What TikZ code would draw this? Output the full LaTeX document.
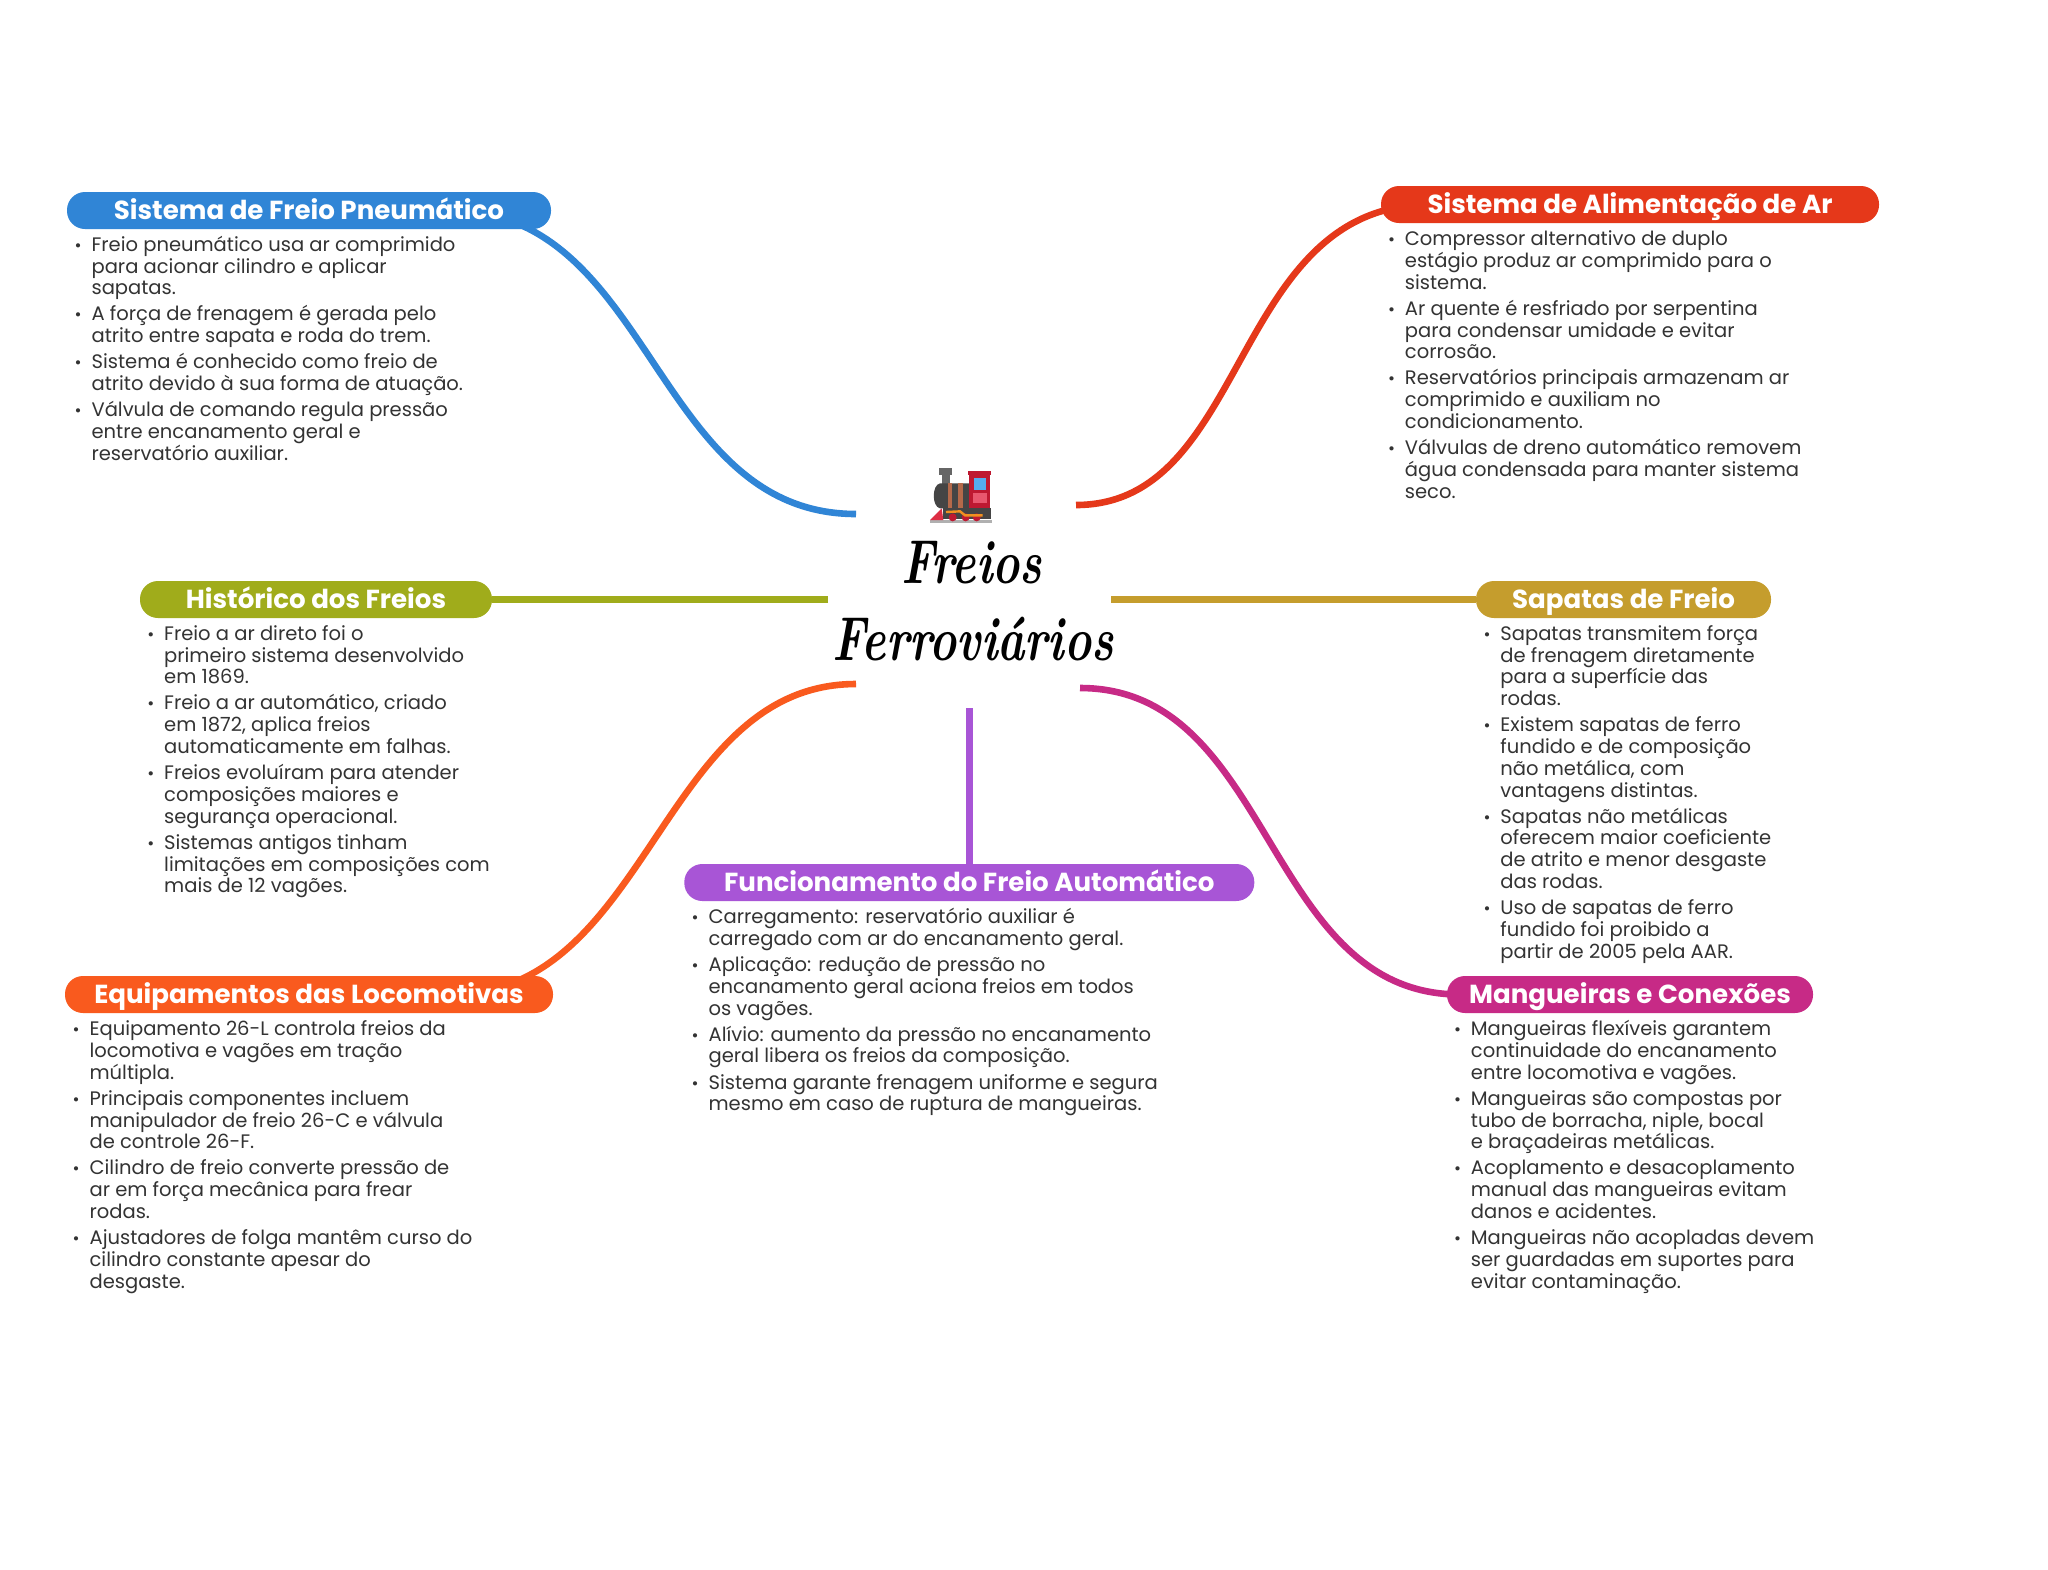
\documentclass[tikz,border=0pt]{standalone}
\usepackage{fontspec}
\usepackage{graphicx}
\newfontfamily\pop{Poppins}
\usetikzlibrary{calc}
\pgfdeclarelayer{bg}\pgfsetlayers{bg,main}
\definecolor{cblue}{HTML}{3085D6}
\definecolor{cred}{HTML}{E5381A}
\definecolor{colive}{HTML}{A0AC1B}
\definecolor{cgold}{HTML}{C59D2D}
\definecolor{corange}{HTML}{F95A1E}
\definecolor{cpurple}{HTML}{A855D6}
\definecolor{cmag}{HTML}{C72A86}
\definecolor{ctext}{HTML}{333333}
\definecolor{tboiler}{HTML}{454545}
\definecolor{tchim}{HTML}{666666}
\definecolor{tband}{HTML}{B5694A}
\definecolor{tcab}{HTML}{BE1931}
\definecolor{tcow}{HTML}{DD2E44}
\definecolor{twin}{HTML}{55ACEE}
\definecolor{tpanel}{HTML}{E9576E}
\definecolor{trail}{HTML}{B0B0B0}
\definecolor{trod}{HTML}{F19020}
\newcommand{\fst}{\rule{0pt}{10pt}}
\newcommand{\itm}{\leavevmode\makebox[0pt][r]{\makebox[0pt][c]{\fontsize{8.5}{8.5}\selectfont •}\hspace{6.7pt}}}
\tikzset{
  x=0.5pt,y=-0.5pt,
  pill/.style={fill=#1,draw=none,rounded corners=9pt,inner sep=0pt,text=white,
     font={\pop\bfseries\fontsize{13.05}{13}\selectfont},
     minimum height=18.5pt,text height=10pt,text depth=1.5pt},
  body/.style={anchor=north west,inner sep=0pt,align=left,text=ctext,
     font={\pop\fontsize{9.76}{10.88}\selectfont\lineskiplimit=-20pt}},
  link/.style={draw=#1,line width=3.3pt},
  roottext/.style={inner sep=0pt,anchor=base,font={\rmfamily\bfseries\itshape\fontsize{23}{23}\selectfont}},
}
\begin{document}
\begin{tikzpicture}
\begin{pgfonlayer}{bg}
\path[fill=white] (0,0) rectangle (2048,1569);
\end{pgfonlayer}
\useasboundingbox (0,0) rectangle (2048,1569);

% pills
\node[pill=cblue,minimum width=242pt] (pneu) at (309,210.5) {Sistema de Freio Pneumático};
\node[pill=cred,minimum width=249pt] (alim) at (1630,204.5) {Sistema de Alimentação de Ar};
\node[pill=colive,minimum width=176pt] (hist) at (316,599.5) {Histórico dos Freios};
\node[pill=cgold,minimum width=147.5pt] (sap) at (1623.5,599.5) {Sapatas de Freio};
\node[pill=corange,minimum width=244pt] (equip) at (309,994.5) {Equipamentos das Locomotivas};
\node[pill=cpurple,minimum width=285pt] (func) at (969.3,882.5) {Funcionamento do Freio Automático};
\node[pill=cmag,minimum width=183pt] (mang) at (1630,994.5) {Mangueiras e Conexões};

% connector ends near the root
\coordinate (rootA) at (856,514);
\coordinate (rootB) at (1076,505);
\coordinate (rootC) at (828,599.5);
\coordinate (rootD) at (1111,599.5);
\coordinate (rootE) at (856,684);
\coordinate (rootF) at (1080,688);
\coordinate (rootG) at (969.3,708);

\begin{pgfonlayer}{bg}
\draw[link=cblue] (rootA) .. controls (653,514) and (653,210.5) .. (450,210.5) -- (pneu.center);
\draw[link=cred] (rootB) .. controls (1250,505) and (1230,204.5) .. (1430,204.5) -- (alim.center);
\draw[link=colive] (rootC) -- (hist.east);
\draw[link=cgold] (rootD) -- (sap.west);
\draw[link=corange] (rootE) .. controls (660,684) and (650,994.5) .. (450,994.5) -- (equip.center);
\draw[link=cmag] (rootF) .. controls (1274,688) and (1264,994.5) .. (1460,994.5) -- (mang.center);
\draw[link=cpurple] (rootG) -- (func.north);
\end{pgfonlayer}

% root title
\node[roottext] (root1) at (972,583) {\scalebox{1}[1.35]{Freios}};
\node[roottext] (root2) at (973,660) {\scalebox{1}[1.35]{Ferroviários}};

% locomotive
\begin{scope}[shift={(800,440)},x=0.16667pt,y=-0.16667pt]
  \fill[trail] (390,240) rectangle (575,250);
  \fill[tcow] (390,240) -- (430,240) -- (425,205) -- cycle;
  \fill[tchim] (417,85) rectangle (457,105);
  \fill[tchim] (425,105) rectangle (450,132);
  \fill[tboiler] (420,130) .. controls (395,135) and (395,200) .. (420,205) -- (510,205) -- (510,130) -- cycle;
  \fill[tband] (445,130) rectangle (457,203);
  \fill[tband] (475,130) rectangle (490,203);
  \fill[tcab] (508,100) rectangle (570,208);
  \fill[tcab] (503,94) rectangle (574,104);
  \fill[twin] (522,115) rectangle (558,150);
  \fill[tpanel] (520,160) rectangle (560,190);
  \fill[tboiler] (430,205) rectangle (572,238);
  \fill[tcab] (458,232) circle (12);
  \fill[tcab] (497,232) circle (12);
  \fill[tcab] (530,232) circle (12);
  \draw[trod,line width=1.2pt] (438,216) -- (480,214) -- (495,226) -- (548,226);
\end{scope}

% bodies
\node[body] (tpneu) at (91.2,230.9) {\fst\itm Freio pneumático usa ar comprimido\\
para acionar cilindro e aplicar\\
sapatas.\\[2.2pt]
\itm A força de frenagem é gerada pelo\\
atrito entre sapata e roda do trem.\\[2.2pt]
\itm Sistema é conhecido como freio de\\
atrito devido à sua forma de atuação.\\[2.2pt]
\itm Válvula de comando regula pressão\\
entre encanamento geral e\\
reservatório auxiliar.};

\node[body] (talim) at (1404.5,225.2) {\fst\itm Compressor alternativo de duplo\\
estágio produz ar comprimido para o\\
sistema.\\[2.2pt]
\itm Ar quente é resfriado por serpentina\\
para condensar umidade e evitar\\
corrosão.\\[2.2pt]
\itm Reservatórios principais armazenam ar\\
comprimido e auxiliam no\\
condicionamento.\\[2.2pt]
\itm Válvulas de dreno automático removem\\
água condensada para manter sistema\\
seco.};

\node[body] (thist) at (163.8,619.9) {\fst\itm Freio a ar direto foi o\\
primeiro sistema desenvolvido\\
em 1869.\\[2.2pt]
\itm Freio a ar automático, criado\\
em 1872, aplica freios\\
automaticamente em falhas.\\[2.2pt]
\itm Freios evoluíram para atender\\
composições maiores e\\
segurança operacional.\\[2.2pt]
\itm Sistemas antigos tinham\\
limitações em composições com\\
mais de 12 vagões.};

\node[body] (tsap) at (1500,619.9) {\fst\itm Sapatas transmitem força\\
de frenagem diretamente\\
para a superfície das\\
rodas.\\[2.2pt]
\itm Existem sapatas de ferro\\
fundido e de composição\\
não metálica, com\\
vantagens distintas.\\[2.2pt]
\itm Sapatas não metálicas\\
oferecem maior coeficiente\\
de atrito e menor desgaste\\
das rodas.\\[2.2pt]
\itm Uso de sapatas de ferro\\
fundido foi proibido a\\
partir de 2005 pela AAR.};

\node[body] (tequip) at (89.2,1015.2) {\fst\itm Equipamento 26-L controla freios da\\
locomotiva e vagões em tração\\
múltipla.\\[2.2pt]
\itm Principais componentes incluem\\
manipulador de freio 26-C e válvula\\
de controle 26-F.\\[2.2pt]
\itm Cilindro de freio converte pressão de\\
ar em força mecânica para frear\\
rodas.\\[2.2pt]
\itm Ajustadores de folga mantêm curso do\\
cilindro constante apesar do\\
desgaste.};

\node[body] (tfunc) at (708.2,903.2) {\fst\itm Carregamento: reservatório auxiliar é\\
carregado com ar do encanamento geral.\\[2.2pt]
\itm Aplicação: redução de pressão no\\
encanamento geral aciona freios em todos\\
os vagões.\\[2.2pt]
\itm Alívio: aumento da pressão no encanamento\\
geral libera os freios da composição.\\[2.2pt]
\itm Sistema garante frenagem uniforme e segura\\
mesmo em caso de ruptura de mangueiras.};

\node[body] (tmang) at (1470.5,1015.2) {\fst\itm Mangueiras flexíveis garantem\\
continuidade do encanamento\\
entre locomotiva e vagões.\\[2.2pt]
\itm Mangueiras são compostas por\\
tubo de borracha, niple, bocal\\
e braçadeiras metálicas.\\[2.2pt]
\itm Acoplamento e desacoplamento\\
manual das mangueiras evitam\\
danos e acidentes.\\[2.2pt]
\itm Mangueiras não acopladas devem\\
ser guardadas em suportes para\\
evitar contaminação.};
\end{tikzpicture}
\end{document}
